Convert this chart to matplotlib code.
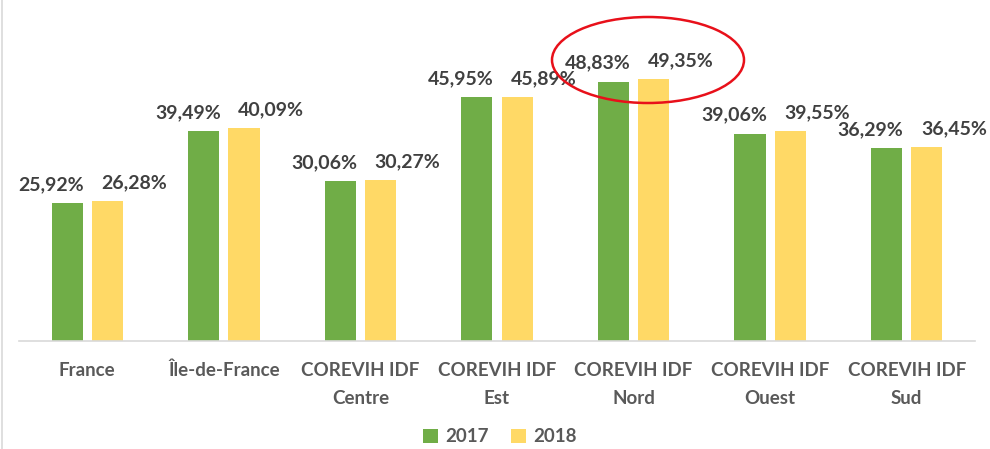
import numpy as np
import matplotlib.pyplot as plt
from matplotlib.patches import Ellipse
from matplotlib.lines import Line2D

plt.rcParams['font.family'] = ['Lato', 'DejaVu Sans']

# Data
categories = ['France', 'Île-de-France', 'COREVIH IDF\nCentre', 'COREVIH IDF\nEst',
              'COREVIH IDF\nNord', 'COREVIH IDF\nOuest', 'COREVIH IDF\nSud']
v2017 = [25.92, 39.49, 30.06, 45.95, 48.83, 39.06, 36.29]
v2018 = [26.28, 40.09, 30.27, 45.89, 49.35, 39.55, 36.45]
labels_2017 = ['25,92%', '39,49%', '30,06%', '45,95%', '48,83%', '39,06%', '36,29%']
labels_2018 = ['26,28%', '40,09%', '30,27%', '45,89%', '49,35%', '39,55%', '36,45%']

green = '#70AD47'
yellow = '#FFD966'
txt = '#404040'
axtxt = '#595959'

W, H = 990, 449
fig = plt.figure(figsize=(W / 100, H / 100), dpi=100)
ax = fig.add_axes([19 / W, 108 / H, (975 - 19) / W, 341 / H])

x = np.arange(len(categories))
bw = 0.228
off = 0.147
b1 = ax.bar(x - off, v2017, bw, color=green, label='2017')
b2 = ax.bar(x + off, v2018, bw, color=yellow, label='2018')

# value labels (Excel pushed them apart sideways)
for xi, v, s in zip(x, v2017, labels_2017):
    ax.annotate(s, (xi - off, v), xytext=(-16, 10), textcoords='offset pixels',
                ha='center', va='bottom', fontsize=14, fontweight='bold', color=txt)
for xi, v, s in zip(x, v2018, labels_2018):
    ax.annotate(s, (xi + off, v), xytext=(27, 10), textcoords='offset pixels',
                ha='center', va='bottom', fontsize=14, fontweight='bold', color=txt)

ax.set_xlim(-0.5, len(categories) - 0.5)
ax.set_ylim(0, 64.2)
ax.set_yticks([])
ax.set_xticks(x)
ax.set_xticklabels(categories, fontsize=13.5, fontweight='bold', color=axtxt, linespacing=1.8)
ax.tick_params(axis='x', length=0, pad=15)
for sp in ['top', 'right', 'left']:
    ax.spines[sp].set_visible(False)
ax.spines['bottom'].set_color('#D9D9D9')
ax.spines['bottom'].set_linewidth(1.2)

leg = fig.legend(handles=[b1, b2], loc='center', bbox_to_anchor=(500 / W, 1 - 437 / H),
                 ncol=2, frameon=False, handlelength=0.8, handleheight=0.8,
                 handletextpad=0.4, columnspacing=1.2,
                 prop={'size': 13.5, 'weight': 'bold'})
for t in leg.get_texts():
    t.set_color(axtxt)

# red ellipse highlight around Nord
fig.patches.append(Ellipse((648 / W, 1 - 60 / H), 192 / W, 86 / H,
                           transform=fig.transFigure, fill=False,
                           edgecolor='#E8101A', linewidth=1.8))

# chart frame edge on the left
fig.lines.append(Line2D([2 / W, 2 / W], [0, 1], transform=fig.transFigure,
                        color='#D9D9D9', linewidth=1.2))

fig.savefig('out.png', dpi=100)
